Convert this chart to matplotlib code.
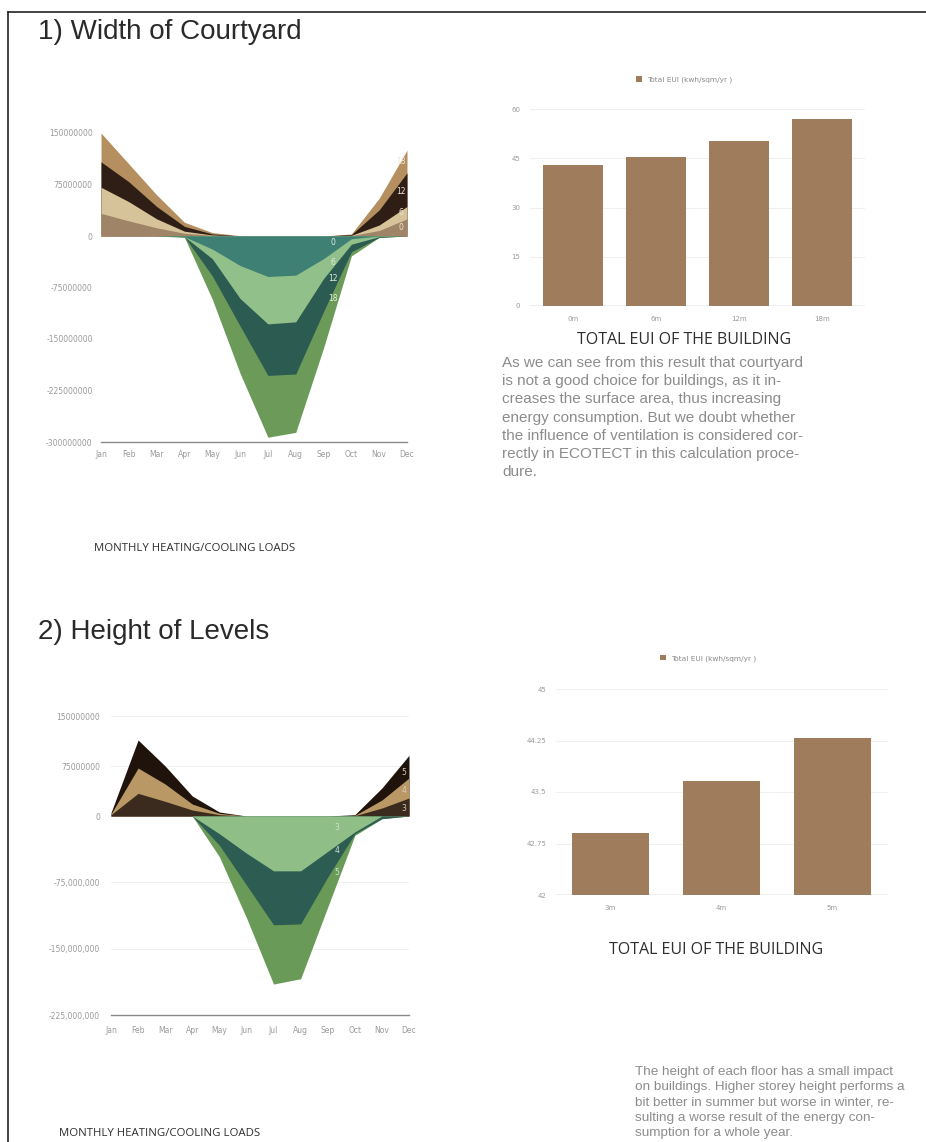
import numpy as np
import matplotlib
matplotlib.use("Agg")
import matplotlib.pyplot as plt
from matplotlib.lines import Line2D

# ---- data (loads in million kWh, EUI in kwh/sqm/yr) ----
months = ['Jan', 'Feb', 'Mar', 'Apr', 'May', 'Jun', 'Jul', 'Aug', 'Sep', 'Oct', 'Nov', 'Dec']

# 1) courtyard width 0m / 6m / 12m / 18m
heat_w18 = [150, 105, 60, 20, 5, 0.5, 0, 0, 0, 3, 55, 125]
heat_w12 = [108, 79, 43, 14, 3, 0, 0, 0, 0, 2, 38, 92]
heat_w6 = [71, 50, 25, 7, 1.5, 0, 0, 0, 0, 1, 16, 43]
heat_w0 = [33, 22, 12, 4, 1, 0, 0, 0, 0, 0.5, 8, 25]
cool_w18 = [0, 0, 0, -2, -92, -200, -293, -286, -163, -29, -2, 0]
cool_w12 = [0, 0, 0, -1, -58, -131, -203, -201, -110, -23, -2, 0]
cool_w6 = [0, 0, 0, -1, -33, -91, -128, -125, -62, -12, -1, 0]
cool_w0 = [0, 0, 0, -1, -19, -43, -59, -57, -33, -4, 0, 0]

width_cats = ['0m', '6m', '12m', '18m']
eui_width = [42.9, 45.5, 50.3, 57.0]

# 2) level height 3m / 4m / 5m
heat_h5 = [5, 114, 75, 30, 6, 0, 0, 0, 0, 2, 42, 91]
heat_h4 = [3, 72, 48, 18, 4, 0, 0, 0, 0, 1, 24, 57]
heat_h3 = [2, 34, 22, 9, 2, 0, 0, 0, 0, 0.5, 12, 27]
cool_h5 = [0, 0, 0, 0, -46, -115, -190, -184, -103, -22, -3, 0]
cool_h4 = [0, 0, 0, 0, -33, -78, -123, -122, -69, -20, -3, 0]
cool_h3 = [0, 0, 0, 0, -20, -42, -62, -62, -40, -18, 0, 0]

height_cats = ['3m', '4m', '5m']
eui_height = [42.9, 43.66, 44.29]

W, H = 926, 1142
fig = plt.figure(figsize=(W / 100, H / 100), dpi=100)
fig.patch.set_facecolor('white')


def px_axes(l, t, r, b):
    return fig.add_axes([l / W, 1 - b / H, (r - l) / W, (b - t) / H])


def fig_text(x, y, s, **kw):
    return fig.text(x / W, 1 - y / H, s, **kw)


tick_col = '#9a9a9a'
x = np.arange(12)

# ---------- top-left: monthly loads by courtyard width ----------
ax1 = px_axes(101, 133, 407, 442)
heat_cols = ['#b58f5f', '#2e1e15', '#d6c39a', '#a08468']
for vals, c in zip([heat_w18, heat_w12, heat_w6, heat_w0], heat_cols):
    ax1.fill_between(x, 0, vals, color=c, lw=0)
cool_cols = ['#6b9a59', '#2b5b51', '#92c08a', '#3f8074']
for vals, c in zip([cool_w18, cool_w12, cool_w6, cool_w0], cool_cols):
    ax1.fill_between(x, 0, vals, color=c, lw=0)
ax1.set_xlim(0, 11)
ax1.set_ylim(-300, 150)
ax1.axhline(-300, color='#8a8a8a', lw=1.0, clip_on=False)
ax1.set_yticks([150, 75, 0, -75, -150, -225, -300])
ax1.set_yticklabels(['150000000', '75000000', '0', '-75000000', '-150000000',
                     '-225000000', '-300000000'])
ax1.set_xticks(x)
ax1.set_xticklabels(months)
ax1.tick_params(length=0, labelsize=5.5, labelcolor=tick_col, pad=6)
for s in ax1.spines.values():
    s.set_visible(False)
for lab, yv in zip(['18', '12', '6', '0'], [108, 65, 34, 12]):
    ax1.text(10.8, yv, lab, fontsize=5.5, color='#efe6d8', ha='center', va='center')
for lab, yv in zip(['0', '6', '12', '18'], [-9, -38, -62, -91]):
    ax1.text(8.35, yv, lab, fontsize=5.5, color='#dfeee0', ha='center', va='center')

# ---------- bottom-left: monthly loads by level height ----------
k = 0.754  # heating half of this chart is drawn compressed


def fwd(v):
    v = np.asarray(v, float)
    return np.where(v > 0, v * k, v)


def inv(v):
    v = np.asarray(v, float)
    return np.where(v > 0, v / k, v)


ax2 = px_axes(111, 716, 409, 1015)
ax2.set_yscale('function', functions=(fwd, inv))
for yv in [150, 75, -75, -150]:
    ax2.axhline(yv, color='#f0f0f0', lw=0.8, zorder=0)
for vals, c in zip([heat_h5, heat_h4, heat_h3], ['#1f130b', '#b99866', '#3b2a1e']):
    ax2.fill_between(x, 0, vals, color=c, lw=0)
for vals, c in zip([cool_h5, cool_h4, cool_h3], ['#6a9a58', '#2c5c52', '#8fbf87']):
    ax2.fill_between(x, 0, vals, color=c, lw=0)
ax2.set_xlim(0, 11)
ax2.set_ylim(-225, 150)
ax2.axhline(-225, color='#8a8a8a', lw=1.0, clip_on=False)
ax2.set_yticks([150, 75, 0, -75, -150, -225])
ax2.set_yticklabels(['150000000', '75000000', '0', '-75,000,000', '-150,000,000',
                     '-225,000,000'])
ax2.yaxis.set_minor_locator(matplotlib.ticker.NullLocator())
ax2.set_xticks(x)
ax2.set_xticklabels(months)
ax2.tick_params(length=0, labelsize=5.5, labelcolor=tick_col, pad=8)
for s in ax2.spines.values():
    s.set_visible(False)
for lab, yv in zip(['5', '4', '3'], [66, 39, 12]):
    ax2.text(10.8, yv, lab, fontsize=5.5, color='#d8cdbb', ha='center', va='center')
for lab, yv in zip(['3', '4', '5'], [-12.5, -38.6, -63.6]):
    ax2.text(8.34, yv, lab, fontsize=5.5, color='#cfe5cf', ha='center', va='center')

# ---------- bar charts ----------
bar_col = '#9f7d5c'


def eui_bars(ax, cats, vals, ticks, ticklabels, lo, hi, xlo, xhi, width, legx):
    pos = np.arange(len(cats))
    for t in ticks:
        ax.axhline(t, color='#f0f0f0', lw=0.8, zorder=0)
    ax.bar(pos, np.array(vals) - lo, bottom=lo, width=width, color=bar_col,
           label='Total EUI (kwh/sqm/yr )', zorder=2)
    ax.set_xlim(xlo, xhi)
    ax.set_ylim(lo, hi)
    ax.set_xticks(pos)
    ax.set_xticklabels(cats)
    ax.set_yticks(ticks)
    ax.set_yticklabels(ticklabels)
    ax.tick_params(length=0, labelsize=5, labelcolor=tick_col, pad=7)
    for s in ax.spines.values():
        s.set_visible(False)
    ax.axhline(lo, color='#7f8c98', lw=0.9, zorder=3)
    leg = ax.legend(loc='center', bbox_to_anchor=(legx, 1.15), frameon=False,
                    fontsize=5.3, handlelength=0.8, handleheight=0.8,
                    handletextpad=0.6)
    for t in leg.get_texts():
        t.set_color('#8a8a8a')


ax3 = px_axes(530, 109, 865, 306)
eui_bars(ax3, width_cats, eui_width, [0, 15, 30, 45, 60],
         ['0', '15', '30', '45', '60'], 0, 60, -0.52, 3.52, 0.72, 0.46)

ax4 = px_axes(556, 689, 888, 895)
eui_bars(ax4, height_cats, eui_height, [42, 42.75, 43.5, 44.25, 45],
         ['42', '42.75', '43.5', '44.25', '45'], 42, 45, -0.49, 2.5, 0.69, 0.458)

# ---------- text ----------
title_kw = dict(family='Liberation Sans', fontsize=20, color='#2a2a2a', va='center')
fig_text(38, 32, '1) Width of Courtyard', **title_kw)
fig_text(38, 632, '2) Height of Levels', **title_kw)

cap_kw = dict(family='Open Sans', color='#2e2e2e', ha='center', va='center')
fig_text(684, 340, 'TOTAL EUI OF THE BUILDING', fontsize=11.5, **cap_kw)
fig_text(716, 950, 'TOTAL EUI OF THE BUILDING', fontsize=11.5, **cap_kw)
fig_text(195, 548, 'MONTHLY HEATING/COOLING LOADS', fontsize=8.2, **cap_kw)
fig_text(160, 1133, 'MONTHLY HEATING/COOLING LOADS', fontsize=8.2, **cap_kw)

para1 = ("As we can see from this result that courtyard\n"
         "is not a good choice for buildings, as it in-\n"
         "creases the surface area, thus increasing\n"
         "energy consumption. But we doubt whether\n"
         "the influence of ventilation is considered cor-\n"
         "rectly in ECOTECT in this calculation proce-\n"
         "dure.")
fig_text(502, 356, para1, family='Liberation Sans', fontsize=11, color='#8c8c8c',
         va='top', linespacing=1.38)

para2 = ("The height of each floor has a small impact\n"
         "on buildings. Higher storey height performs a\n"
         "bit better in summer but worse in winter, re-\n"
         "sulting a worse result of the energy con-\n"
         "sumption for a whole year.")
fig_text(635, 1066, para2, family='Liberation Sans', fontsize=9.7, color='#8c8c8c',
         va='top', linespacing=1.37)

# frame lines of the poster page
fig.add_artist(Line2D([8 / W, 8 / W], [0, 1 - 12 / H], color='#222222', lw=1.2))
fig.add_artist(Line2D([8 / W, 1], [1 - 12 / H, 1 - 12 / H], color='#222222', lw=1.2))

fig.savefig('out.png', dpi=100, facecolor='white')
